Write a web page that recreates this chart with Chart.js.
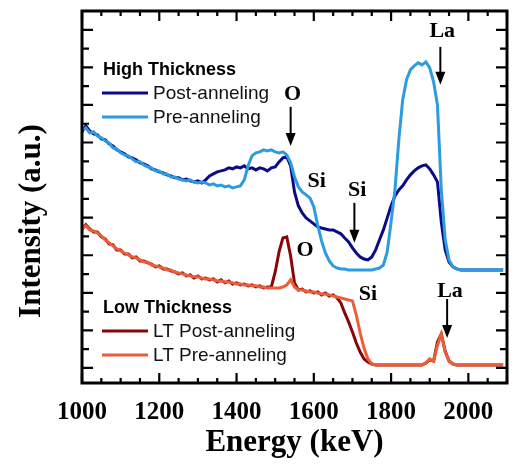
<!DOCTYPE html>
<html>
<head>
<meta charset="utf-8">
<script src="https://cdn.jsdelivr.net/npm/chart.js@4.4.0/dist/chart.umd.min.js"></script>
<style>
  html, body { margin: 0; padding: 0; overflow: hidden; background: #fff; }
  #wrap { width: 522px; height: 468px; }
</style>
</head>
<body>
<div id="wrap"><canvas id="rbs" width="522" height="468"></canvas></div>
<script>
// energy grid (keV), one reading every 10 keV
const energy = Array.from({ length: 110 }, (_, i) => 1000 + i * 10);

// high thickness, post-anneling
const htPost = [
  12.57, 12.89, 12.62, 12.46, 12.41, 12.19, 12.14, 11.93, 11.82, 11.61,
  11.50, 11.40, 11.24, 11.18, 11.08, 10.92, 10.86, 10.76, 10.60, 10.54,
  10.44, 10.38, 10.28, 10.22, 10.12, 10.12, 10.01, 10.06, 9.96, 9.90,
  9.96, 9.85, 10.01, 10.22, 10.33, 10.44, 10.49, 10.54, 10.65, 10.60,
  10.70, 10.65, 10.76, 10.60, 10.65, 10.54, 10.65, 10.60, 10.49, 10.65,
  10.70, 10.97, 11.18, 11.24, 10.76, 9.37, 8.63, 8.25, 7.99, 7.83,
  7.67, 7.51, 7.45, 7.40, 7.35, 7.35, 7.24, 7.14, 6.92, 6.71,
  6.39, 6.12, 5.91, 5.80, 5.75, 5.91, 6.28, 6.82, 7.35, 7.99,
  8.63, 9.16, 9.48, 9.69, 10.01, 10.28, 10.49, 10.65, 10.76, 10.81,
  10.60, 10.28, 9.90, 7.77, 6.28, 5.64, 5.38, 5.27, 5.22, 5.22,
  5.22, 5.22, 5.22, 5.22, 5.22, 5.22, 5.22, 5.22, 5.22, 5.22,
];

// high thickness, pre-anneling
const htPre = [
  12.67, 12.78, 12.51, 12.57, 12.35, 12.25, 12.09, 11.98, 11.71, 11.66,
  11.45, 11.34, 11.29, 11.13, 10.97, 10.97, 10.81, 10.70, 10.65, 10.49,
  10.49, 10.33, 10.33, 10.17, 10.17, 10.06, 10.01, 9.96, 10.01, 9.90,
  9.85, 9.90, 9.85, 9.74, 9.80, 9.69, 9.74, 9.64, 9.69, 9.58,
  9.64, 9.69, 10.01, 10.76, 11.29, 11.45, 11.50, 11.61, 11.55, 11.61,
  11.50, 11.45, 11.50, 11.34, 10.92, 10.17, 9.64, 9.37, 9.21, 9.05,
  8.57, 7.61, 6.76, 6.12, 5.70, 5.43, 5.32, 5.27, 5.27, 5.22,
  5.22, 5.22, 5.22, 5.22, 5.22, 5.22, 5.27, 5.32, 5.48, 6.18,
  7.77, 9.48, 12.14, 14.27, 15.34, 15.87, 16.08, 16.24, 16.13, 16.29,
  15.97, 15.23, 14.00, 9.48, 6.82, 5.75, 5.38, 5.27, 5.22, 5.22,
  5.22, 5.22, 5.22, 5.22, 5.22, 5.22, 5.22, 5.22, 5.22, 5.22,
];

// low thickness, post-anneling
const ltPost = [
  7.40, 7.62, 7.40, 7.24, 7.24, 6.98, 6.87, 6.60, 6.55, 6.28,
  6.28, 6.07, 6.07, 5.86, 5.91, 5.70, 5.70, 5.59, 5.53, 5.38,
  5.43, 5.27, 5.27, 5.17, 5.11, 5.01, 5.06, 4.90, 4.95, 4.79,
  4.90, 4.74, 4.79, 4.69, 4.74, 4.58, 4.69, 4.53, 4.63, 4.47,
  4.53, 4.42, 4.47, 4.37, 4.42, 4.31, 4.37, 4.26, 4.31, 4.31,
  5.11, 6.18, 6.92, 6.98, 5.96, 4.53, 4.15, 4.20, 4.05, 4.10,
  3.99, 4.05, 3.89, 3.99, 3.83, 3.89, 3.73, 3.46, 2.93, 2.45,
  1.92, 1.33, 0.85, 0.48, 0.32, 0.21, 0.16, 0.16, 0.16, 0.16,
  0.16, 0.16, 0.16, 0.16, 0.16, 0.16, 0.16, 0.16, 0.16, 0.27,
  0.43, 0.37, 1.38, 1.81, 0.90, 0.37, 0.21, 0.16, 0.16, 0.16,
  0.16, 0.16, 0.16, 0.16, 0.16, 0.16, 0.16, 0.16, 0.16, 0.16,
];

// low thickness, pre-anneling
const ltPre = [
  7.45, 7.56, 7.35, 7.29, 7.19, 7.03, 6.82, 6.66, 6.50, 6.34,
  6.23, 6.12, 6.02, 5.91, 5.86, 5.75, 5.64, 5.64, 5.48, 5.43,
  5.38, 5.32, 5.22, 5.22, 5.11, 5.06, 5.01, 4.95, 4.90, 4.85,
  4.85, 4.79, 4.74, 4.74, 4.69, 4.63, 4.63, 4.58, 4.58, 4.53,
  4.47, 4.47, 4.42, 4.42, 4.37, 4.37, 4.31, 4.31, 4.26, 4.26,
  4.26, 4.26, 4.31, 4.42, 4.69, 4.31, 4.15, 4.15, 4.10, 4.05,
  4.05, 3.99, 3.94, 3.94, 3.89, 3.83, 3.78, 3.73, 3.67, 3.62,
  3.57, 2.82, 1.86, 1.06, 0.48, 0.21, 0.16, 0.16, 0.16, 0.16,
  0.16, 0.16, 0.16, 0.16, 0.16, 0.16, 0.16, 0.16, 0.16, 0.27,
  0.48, 0.37, 1.20, 1.80, 0.85, 0.37, 0.21, 0.16, 0.16, 0.16,
  0.16, 0.16, 0.16, 0.16, 0.16, 0.16, 0.16, 0.16, 0.16, 0.16,
];

const seriesLabels = ["Post-anneling", "Pre-anneling", "LT Post-anneling", "LT Pre-anneling"];
const seriesColors = ["#0b0b8a", "#2b9be2", "#8a0606", "#ea5f3a"];
// pre-anneling curves sit on top of the post-anneling ones
const seriesOrder = [2, 1, 2, 1];

const legendGroups = [
  { title: "High Thickness", sets: [0, 1] },
  { title: "Low Thickness", sets: [2, 3] },
];

// element labels, placed in data units (keV, intensity)
const peakNotes = [
  { text: "La", e: 1932.5, i: 17.94 },
  { text: "O", e: 1545, i: 14.59 },
  { text: "Si", e: 1607.5, i: 9.96 },
  { text: "Si", e: 1712.5, i: 9.48 },
  { text: "O", e: 1577.5, i: 6.28 },
  { text: "Si", e: 1740, i: 3.94 },
  { text: "La", e: 1952.5, i: 4.10 },
];
const peakArrows = [
  { e: 1927.5, from: 17.09, to: 15.07 },
  { e: 1540, from: 13.90, to: 11.82 },
  { e: 1705, from: 8.79, to: 6.66 },
  { e: 1945, from: 3.67, to: 1.60 },
];

const serif = "'Liberation Serif', 'Times New Roman', serif";
const sans = "'Liberation Sans', Arial, sans-serif";

// box + inward ticks on all four sides
const axisFrame = {
  id: "axisFrame",
  afterDatasetsDraw(chart) {
    const { ctx, chartArea: a, scales: { x, y } } = chart;
    ctx.save();
    ctx.strokeStyle = "#000";
    ctx.lineWidth = 3;
    ctx.strokeRect(a.left, a.top, a.right - a.left, a.bottom - a.top);
    ctx.lineWidth = 2.2;
    ctx.beginPath();
    for (let v = x.min; v <= x.max; v += 50) {
      const px = x.getPixelForValue(v);
      const len = v % 200 === 0 ? 10 : 5;
      ctx.moveTo(px, a.bottom);
      ctx.lineTo(px, a.bottom - len);
      ctx.moveTo(px, a.top);
      ctx.lineTo(px, a.top + len);
    }
    for (let v = Math.ceil(y.min); v <= y.max; v++) {
      const py = y.getPixelForValue(v);
      const len = v % 2 === 0 ? 11 : 7;
      ctx.moveTo(a.left, py);
      ctx.lineTo(a.left + len, py);
      ctx.moveTo(a.right, py);
      ctx.lineTo(a.right - len, py);
    }
    ctx.stroke();
    ctx.restore();
  },
};

const annotations = {
  id: "annotations",
  afterDraw(chart) {
    const { ctx, chartArea: a, scales: { x, y } } = chart;
    ctx.save();
    ctx.fillStyle = "#000";
    ctx.strokeStyle = "#000";

    // y axis title
    ctx.save();
    ctx.translate(32, 221);
    ctx.rotate(-Math.PI / 2);
    ctx.font = `bold 31px ${serif}`;
    ctx.textAlign = "center";
    ctx.textBaseline = "middle";
    ctx.fillText("Intensity (a.u.)", 0, 0);
    ctx.restore();

    // peak labels
    ctx.font = `bold 22px ${serif}`;
    ctx.textAlign = "center";
    ctx.textBaseline = "middle";
    peakNotes.forEach((n) => {
      ctx.fillText(n.text, x.getPixelForValue(n.e), y.getPixelForValue(n.i));
    });

    // arrows
    peakArrows.forEach((ar) => {
      const px = x.getPixelForValue(ar.e);
      const y1 = y.getPixelForValue(ar.from);
      const y2 = y.getPixelForValue(ar.to);
      ctx.lineWidth = 2;
      ctx.beginPath();
      ctx.moveTo(px, y1);
      ctx.lineTo(px, y2 - 10);
      ctx.stroke();
      ctx.beginPath();
      ctx.moveTo(px - 5, y2 - 13);
      ctx.lineTo(px + 5, y2 - 13);
      ctx.lineTo(px, y2);
      ctx.closePath();
      ctx.fill();
    });

    // two grouped legends
    const groupTops = [a.top + 59, a.top + 297];
    legendGroups.forEach((g, gi) => {
      const top = groupTops[gi];
      ctx.textAlign = "left";
      ctx.textBaseline = "middle";
      ctx.fillStyle = "#000";
      ctx.font = `bold 18px ${sans}`;
      ctx.fillText(g.title, a.left + 21, top);
      g.sets.forEach((di, k) => {
        const ly = top + 23 + k * 24;
        ctx.strokeStyle = seriesColors[di];
        ctx.lineWidth = 3;
        ctx.beginPath();
        ctx.moveTo(a.left + 20, ly);
        ctx.lineTo(a.left + 66, ly);
        ctx.stroke();
        ctx.fillStyle = "#111";
        ctx.font = `19px ${sans}`;
        ctx.fillText(chart.data.datasets[di].label, a.left + 71, ly + 1);
      });
    });
    ctx.restore();
  },
};

const series = [htPost, htPre, ltPost, ltPre];

new Chart(document.getElementById("rbs"), {
  type: "line",
  data: {
    datasets: series.map((vals, di) => ({
      label: seriesLabels[di],
      data: vals.map((v, i) => ({ x: energy[i], y: v })),
      borderColor: seriesColors[di],
      backgroundColor: seriesColors[di],
      order: seriesOrder[di],
      borderWidth: 3,
      pointRadius: 0,
      tension: 0,
      fill: false,
    })),
  },
  options: {
    responsive: false,
    animation: false,
    devicePixelRatio: 1,
    layout: { padding: { top: 11, right: 0, bottom: 0, left: 0 } },
    plugins: {
      legend: { display: false },
      tooltip: { enabled: false },
    },
    scales: {
      x: {
        type: "linear",
        min: 1000,
        max: 2100,
        grid: { display: false, drawTicks: false },
        border: { display: false },
        ticks: {
          stepSize: 50,
          autoSkip: false,
          maxRotation: 0,
          padding: 15,
          color: "#000",
          font: { family: serif, size: 25, weight: "bold" },
          callback: (v) => (v % 200 === 0 ? v : ""),
        },
        title: {
          display: true,
          text: "Energy (keV)",
          color: "#000",
          font: { family: serif, size: 31, weight: "bold" },
          padding: { top: 0, bottom: 6 },
        },
        afterFit: (s) => {
          s.height = 85;
        },
      },
      y: {
        min: -0.8,
        max: 19,
        grid: { display: false, drawTicks: false },
        border: { display: false },
        ticks: { display: false, stepSize: 1 },
        afterFit: (s) => {
          s.width = 82;
        },
      },
    },
  },
  plugins: [axisFrame, annotations],
});
</script>
</body>
</html>
